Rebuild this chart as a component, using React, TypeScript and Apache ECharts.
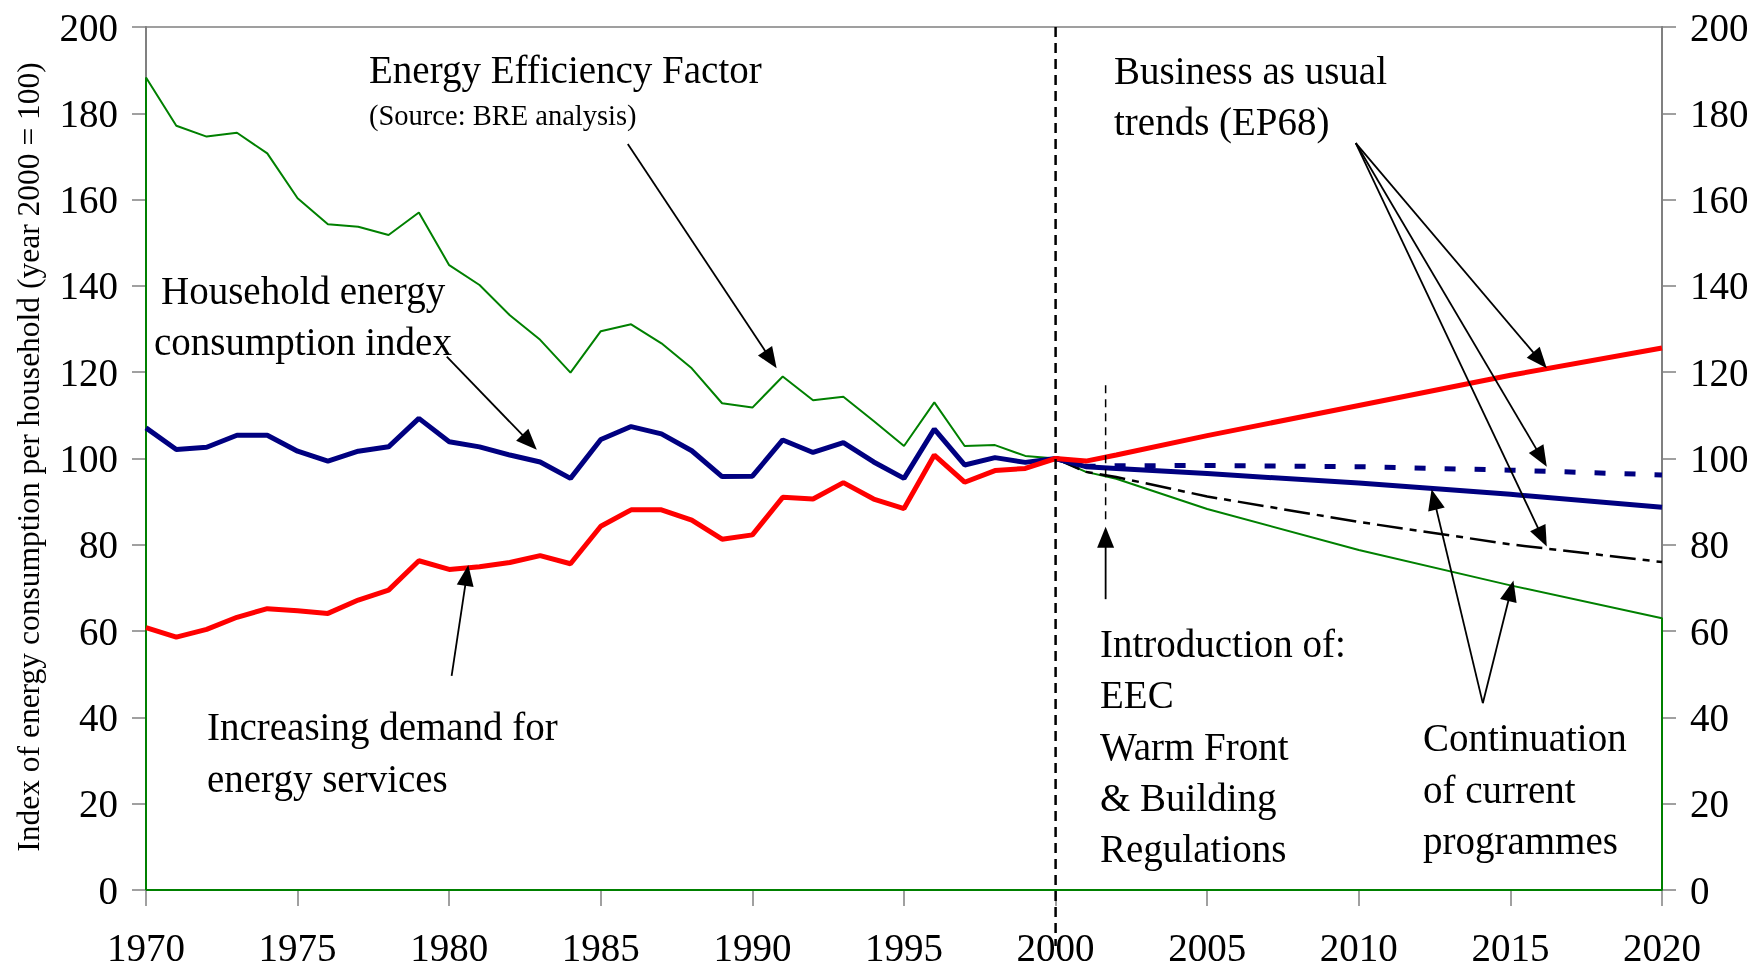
import React, { useEffect, useRef } from "react";
import * as echarts from "echarts";

const histYears = [
  1970, 1971, 1972, 1973, 1974, 1975, 1976, 1977, 1978, 1979, 1980, 1981, 1982,
  1983, 1984, 1985, 1986, 1987, 1988, 1989, 1990, 1991, 1992, 1993, 1994, 1995,
  1996, 1997, 1998, 1999, 2000,
];
const efficiencyHist = [
  188.3, 177.1, 174.6, 175.5, 170.7, 160.3, 154.3, 153.7, 151.8, 157.0, 144.8,
  140.2, 133.2, 127.5, 119.9, 129.5, 131.1, 126.7, 120.9, 112.8, 111.8, 119.0,
  113.5, 114.3, 108.7, 102.9, 113.0, 102.9, 103.1, 100.6, 100,
];
const householdHist = [
  107.1, 102.1, 102.6, 105.4, 105.4, 101.7, 99.4, 101.7, 102.7, 109.3, 103.9,
  102.7, 100.8, 99.2, 95.4, 104.4, 107.4, 105.7, 101.8, 95.8, 95.9, 104.3, 101.4,
  103.7, 99.2, 95.4, 106.8, 98.5, 100.2, 99.1, 100,
];
const demandHist = [
  60.8, 58.6, 60.4, 63.2, 65.2, 64.7, 64.1, 67.2, 69.5, 76.3, 74.3, 74.9, 75.9,
  77.5, 75.6, 84.3, 88.1, 88.1, 85.7, 81.3, 82.3, 91.0, 90.6, 94.4, 90.6, 88.4,
  100.8, 94.5, 97.2, 97.7, 100,
];

const projYears = [2000, 2001, 2002, 2005, 2010, 2015, 2020];
const demandBAU = [100, 99.4, 100.8, 105.3, 112.3, 119.3, 125.6];
const householdCont = [100, 98.1, 97.7, 96.5, 94.3, 91.7, 88.7];
const householdBAU = [100, 98.2, 98.3, 98.4, 98.1, 97.3, 96.2];
const efficiencyBAU = [100, 96.9, 95.7, 91.2, 85.3, 80.1, 76.0];
const efficiencyCont = [100, 96.9, 95.3, 88.3, 78.8, 70.6, 63.0];

const yTicks = [0, 20, 40, 60, 80, 100, 120, 140, 160, 180, 200];
const xTicks = [1970, 1975, 1980, 1985, 1990, 1995, 2000, 2005, 2010, 2015, 2020];

// annotation arrows in data coordinates [from, to]
const arrows: [number[], number[]][] = [
  [[1985.89, 172.9], [1990.8, 120.9]],
  [[1979.92, 123.6], [1982.89, 102.0]],
  [[1980.08, 49.6], [1980.63, 75.3]],
  [[2009.9, 173.1], [2016.2, 120.9]],
  [[2009.9, 173.1], [2016.2, 98.1]],
  [[2009.9, 173.1], [2016.2, 79.6]],
  [[2014.09, 43.3], [2012.4, 92.9]],
  [[2014.09, 43.3], [2015.1, 71.7]],
  [[2001.65, 67.4], [2001.65, 84.2]],
];

const FONT = "'Liberation Serif', 'Times New Roman', serif";

const labels = [
  { t: "Energy Efficiency Factor", x: 369, y: 69, s: 39 },
  { t: "(Source: BRE analysis)", x: 369, y: 115, s: 28.5 },
  { t: "Household energy", x: 161, y: 290, s: 39 },
  { t: "consumption index", x: 154, y: 341, s: 39 },
  { t: "Increasing demand for", x: 207, y: 726, s: 39 },
  { t: "energy services", x: 207, y: 778, s: 39 },
  { t: "Business as usual", x: 1114, y: 70, s: 39 },
  { t: "trends (EP68)", x: 1114, y: 121, s: 39 },
  { t: "Introduction of:", x: 1100, y: 643, s: 39 },
  { t: "EEC", x: 1100, y: 694, s: 39 },
  { t: "Warm Front", x: 1100, y: 746, s: 39 },
  { t: "& Building", x: 1100, y: 797, s: 39 },
  { t: "Regulations", x: 1100, y: 848, s: 39 },
  { t: "Continuation", x: 1423, y: 737, s: 39 },
  { t: "of current", x: 1423, y: 789, s: 39 },
  { t: "programmes", x: 1423, y: 840, s: 39 },
];

function pairs(xs: number[], ys: number[]) {
  return xs.map((x, i) => [x, ys[i]]);
}

export default function App() {
  const ref = useRef<HTMLDivElement>(null);
  useEffect(() => {
    const chart = echarts.init(ref.current!, null, { renderer: "svg" });
    const axisCommon = {
      type: "value",
      min: 0,
      max: 200,
      interval: 20,
      splitLine: { show: false },
      axisLine: { show: true, lineStyle: { color: "#808080", width: 2 } },
      axisTick: { show: true, inside: false, length: 14, lineStyle: { color: "#808080", width: 1.5 } },
      axisLabel: { color: "#000", fontFamily: FONT, fontSize: 39, margin: 28 },
    };
    const greenOutline = [
      [1970, 0],
      ...pairs(histYears, efficiencyHist),
      ...pairs(projYears, efficiencyCont).slice(1),
      [2020, 0],
      [1970, 0],
    ];
    chart.setOption({
      animation: false,
      grid: {
        left: 146,
        right: 102,
        top: 27,
        bottom: 82,
        show: true,
        borderColor: "#808080",
        borderWidth: 1.5,
        backgroundColor: "transparent",
      },
      xAxis: {
        type: "value",
        min: 1970,
        max: 2020,
        interval: 5,
        splitLine: { show: false },
        axisLine: { show: true, lineStyle: { color: "#808080", width: 2 } },
        axisTick: { show: true, length: 16, lineStyle: { color: "#808080", width: 1.5 } },
        axisLabel: {
          color: "#000",
          fontFamily: FONT,
          fontSize: 39,
          margin: 41,
          lineHeight: 32,
          formatter: (v: number) => (xTicks.includes(v) ? String(v) : ""),
        },
      },
      yAxis: [
        { ...axisCommon, position: "left", axisLabel: { ...axisCommon.axisLabel, formatter: (v: number) => (yTicks.includes(v) ? String(v) : "") } },
        { ...axisCommon, position: "right" },
      ],
      series: [
        {
          type: "line",
          data: greenOutline,
          symbol: "none",
          clip: false,
          lineStyle: { color: "#008000", width: 2 },
          z: 3,
        },
        {
          type: "line",
          data: pairs(projYears, efficiencyBAU),
          symbol: "none",
          lineStyle: { color: "#000", width: 2.5, type: [26, 7, 7, 7] },
          z: 4,
        },
        {
          type: "line",
          data: pairs(projYears, householdBAU),
          symbol: "none",
          lineStyle: { color: "#000080", width: 5, type: [11, 19] },
          z: 5,
        },
        {
          type: "line",
          data: [...pairs(histYears, householdHist), ...pairs(projYears, householdCont).slice(1)],
          symbol: "none",
          lineStyle: { color: "#000080", width: 5 },
          z: 6,
        },
        {
          type: "line",
          data: [...pairs(histYears, demandHist), ...pairs(projYears, demandBAU).slice(1)],
          symbol: "none",
          lineStyle: { color: "#FF0000", width: 5 },
          z: 7,
        },
      ],
    });

    const px = (p: number[]) =>
      chart.convertToPixel({ xAxisIndex: 0, yAxisIndex: 0 }, p) as number[];

    const graphics: any[] = [];
    // vertical dashed divider at 2000
    const d0 = px([2000, 200]);
    const d1 = px([2000, -13]);
    graphics.push({
      type: "line",
      z: 50,
      shape: { x1: d0[0], y1: d0[1], x2: d1[0], y2: d1[1] },
      style: { stroke: "#000", lineWidth: 2.5, lineDash: [10, 6] },
    });
    // short dashed marker for introduction of programmes
    const s0 = px([2001.65, 117.0]);
    const s1 = px([2001.65, 84.6]);
    graphics.push({
      type: "line",
      z: 50,
      shape: { x1: s0[0], y1: s0[1], x2: s1[0], y2: s1[1] },
      style: { stroke: "#000", lineWidth: 1.5, lineDash: [8, 6] },
    });

    const L = 21;
    const W = 8.5;
    arrows.forEach(([a, b]) => {
      const p0 = px(a);
      const p1 = px(b);
      const dx = p1[0] - p0[0];
      const dy = p1[1] - p0[1];
      const len = Math.hypot(dx, dy);
      const ux = dx / len;
      const uy = dy / len;
      const bx = p1[0] - ux * L;
      const by = p1[1] - uy * L;
      const nx = -uy;
      const ny = ux;
      graphics.push({
        type: "line",
        z: 60,
        shape: { x1: p0[0], y1: p0[1], x2: bx + ux * 2, y2: by + uy * 2 },
        style: { stroke: "#000", lineWidth: 1.8 },
      });
      graphics.push({
        type: "polygon",
        z: 60,
        shape: {
          points: [
            [p1[0], p1[1]],
            [bx + nx * W, by + ny * W],
            [bx - nx * W, by - ny * W],
          ],
        },
        style: { fill: "#000" },
      });
    });

    labels.forEach((l) => {
      graphics.push({
        type: "text",
        z: 70,
        x: l.x,
        y: l.y,
        style: {
          text: l.t,
          fontFamily: FONT,
          fontSize: l.s,
          fill: "#000",
          align: "left",
          verticalAlign: "middle",
        },
      });
    });

    graphics.push({
      type: "text",
      z: 70,
      x: 28,
      y: 457,
      rotation: Math.PI / 2,
      style: {
        text: "Index of energy consumption per household (year 2000 = 100)",
        fontFamily: FONT,
        fontSize: 31.5,
        fill: "#000",
        align: "center",
        verticalAlign: "middle",
      },
    });

    chart.setOption({ graphic: graphics });
    return () => chart.dispose();
  }, []);
  return (
    <div
      ref={ref}
      style={{ position: "fixed", left: 0, top: 0, width: 1764, height: 972 }}
    />
  );
}
